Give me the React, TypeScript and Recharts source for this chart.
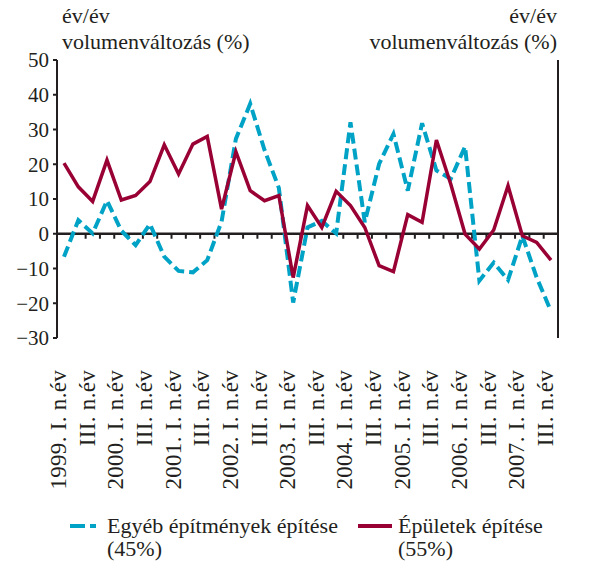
import { LineChart, Line, XAxis, YAxis, ReferenceLine } from 'recharts'

// Negyedévek: 1999. I. n.év – 2007. III. n.év
const EVEK = [1999, 2000, 2001, 2002, 2003, 2004, 2005, 2006, 2007]
const NEGYEDEK = ['I.', 'II.', 'III.', 'IV.']
const NEGYEDEVEK = EVEK.flatMap((ev) =>
  NEGYEDEK.map((n, i) => (i === 0 ? `${ev}. ${n} n.év` : `${n} n.év`)),
).slice(0, 35)

// Egyéb építmények építése (45%)
const EGYEB = [
  -6.6, 3.9, 0.1, 9.5, 0.9, -3.3, 2.8, -6.6, -10.7, -11.1, -7.6, 3.5,
  27.3, 37.4, 24.1, 13.2, -19.8, 1.8, 3.7, 0.1, 32.1, 3.3, 20.1, 28.7,
  12.4, 31.8, 18.2, 15.8, 25.1, -13.5, -8.3, -13.3, -0.6, -12.6, -22.3,
]
// Épületek építése (55%)
const EPULETEK = [
  20.3, 13.5, 9.3, 21.2, 9.7, 11, 15, 25.6, 17.2, 25.8, 28, 7.1,
  23.6, 12.4, 9.5, 11, -12.6, 8.1, 1.8, 12.2, 8.1, 1.8, -9.2, -10.9,
  5.5, 3.3, 27, 14.3, -0.1, -4.4, 1.1, 13.8, -0.6, -2.5, -7.6,
]

const Y_TICKEK = [-30, -20, -10, 0, 10, 20, 30, 40, 50]
const SOROZATOK = ['Egyéb építmények építése', 'Épületek építése']
const SULYOK = ['(45%)', '(55%)']
const TENGELYCIM = ['év/év', 'volumenváltozás (%)']

const KEK = '#00a3c6'
const BORDO = '#990033'
const FEKETE = '#231f20'
const BETU = '"Liberation Serif", "Times New Roman", serif'

const adatok = NEGYEDEVEK.map((q, i) => ({ q, egyeb: EGYEB[i], epuletek: EPULETEK[i] }))

const szam = (v: number) => (v < 0 ? `\u2212${Math.abs(v)}` : `${v}`)

function KategoriaTick({ x, y, payload }: any) {
  return (
    <text
      transform={`translate(${x + 2},${y + 24}) rotate(-90)`}
      textAnchor="end"
      fontSize={23}
      letterSpacing={0.3}
      fontFamily={BETU}
      fill={FEKETE}
    >
      {payload.value}
    </text>
  )
}

// Nullvonal a kategóriahatárokon lefelé mutató kis osztásokkal.
function NullVonal(props: any) {
  const { x1, y1, x2 } = props
  const sav = (x2 - x1) / NEGYEDEVEK.length
  return (
    <g>
      <line x1={x1} y1={y1} x2={x2} y2={y1} stroke={FEKETE} strokeWidth={2.5} />
      {NEGYEDEVEK.slice(1).map((_, k) => (
        <line
          key={k}
          x1={x1 + (k + 1) * sav}
          x2={x1 + (k + 1) * sav}
          y1={y1}
          y2={y1 + 5}
          stroke={FEKETE}
          strokeWidth={2}
        />
      ))}
    </g>
  )
}

const yTick = { fontSize: 21, fill: FEKETE, fontFamily: BETU }

export default function App() {
  return (
    <div style={{ position: 'absolute', left: 0, top: 0, width: 609, height: 563, fontFamily: BETU, color: FEKETE }}>
      <div style={{ position: 'absolute', left: 62, top: 3, fontSize: 22, lineHeight: '26px' }}>
        {TENGELYCIM.map((t) => (
          <div key={t}>{t}</div>
        ))}
      </div>
      <div style={{ position: 'absolute', right: 52, top: 3, fontSize: 22, lineHeight: '26px', textAlign: 'right' }}>
        {TENGELYCIM.map((t) => (
          <div key={t}>{t}</div>
        ))}
      </div>
      <LineChart width={609} height={563} data={adatok} margin={{ top: 60, right: 0, bottom: 0, left: 0 }}>
        <XAxis
          dataKey="q"
          xAxisId="x"
          height={225}
          interval={1}
          padding={{ left: 7, right: 7 }}
          axisLine={false}
          tickLine={false}
          tick={<KategoriaTick />}
        />
        <YAxis
          yAxisId="bal"
          width={57}
          domain={[-30, 50]}
          ticks={Y_TICKEK}
          interval={0}
          tickFormatter={szam}
          axisLine={{ stroke: FEKETE, strokeWidth: 2 }}
          tickLine={{ stroke: FEKETE, strokeWidth: 2 }}
          tickSize={4}
          tickMargin={4}
          tick={yTick}
        />
        <YAxis
          yAxisId="jobb"
          orientation="right"
          width={51}
          domain={[-30, 50]}
          ticks={Y_TICKEK}
          interval={0}
          tickFormatter={szam}
          axisLine={{ stroke: FEKETE, strokeWidth: 2 }}
          tickLine={{ stroke: FEKETE, strokeWidth: 2 }}
          tickSize={4}
          tickMargin={5}
          tick={{ ...yTick, textAnchor: 'start' }}
        />
        <ReferenceLine y={0} xAxisId="x" yAxisId="bal" shape={<NullVonal />} />
        <Line
          xAxisId="x"
          yAxisId="bal"
          dataKey="egyeb"
          name={SOROZATOK[0]}
          stroke={KEK}
          strokeWidth={4}
          strokeDasharray="11 5"
          dot={false}
          isAnimationActive={false}
        />
        <Line
          xAxisId="x"
          yAxisId="bal"
          dataKey="epuletek"
          name={SOROZATOK[1]}
          stroke={BORDO}
          strokeWidth={3.5}
          dot={false}
          isAnimationActive={false}
        />
      </LineChart>
      <div style={{ position: 'absolute', left: 70, top: 514, fontSize: 22, lineHeight: '23px', display: 'flex' }}>
        <svg width={32} height={23} style={{ marginRight: 5 }}>
          <line x1={0} x2={32} y1={12} y2={12} stroke={KEK} strokeWidth={4} strokeDasharray="15 5 6 6" />
        </svg>
        <div>
          <div>{SOROZATOK[0]}</div>
          <div>{SULYOK[0]}</div>
        </div>
      </div>
      <div style={{ position: 'absolute', left: 358, top: 514, fontSize: 22, lineHeight: '23px', display: 'flex' }}>
        <svg width={34} height={23} style={{ marginRight: 6 }}>
          <line x1={0} x2={34} y1={12} y2={12} stroke={BORDO} strokeWidth={4} />
        </svg>
        <div>
          <div>{SOROZATOK[1]}</div>
          <div>{SULYOK[1]}</div>
        </div>
      </div>
    </div>
  )
}
